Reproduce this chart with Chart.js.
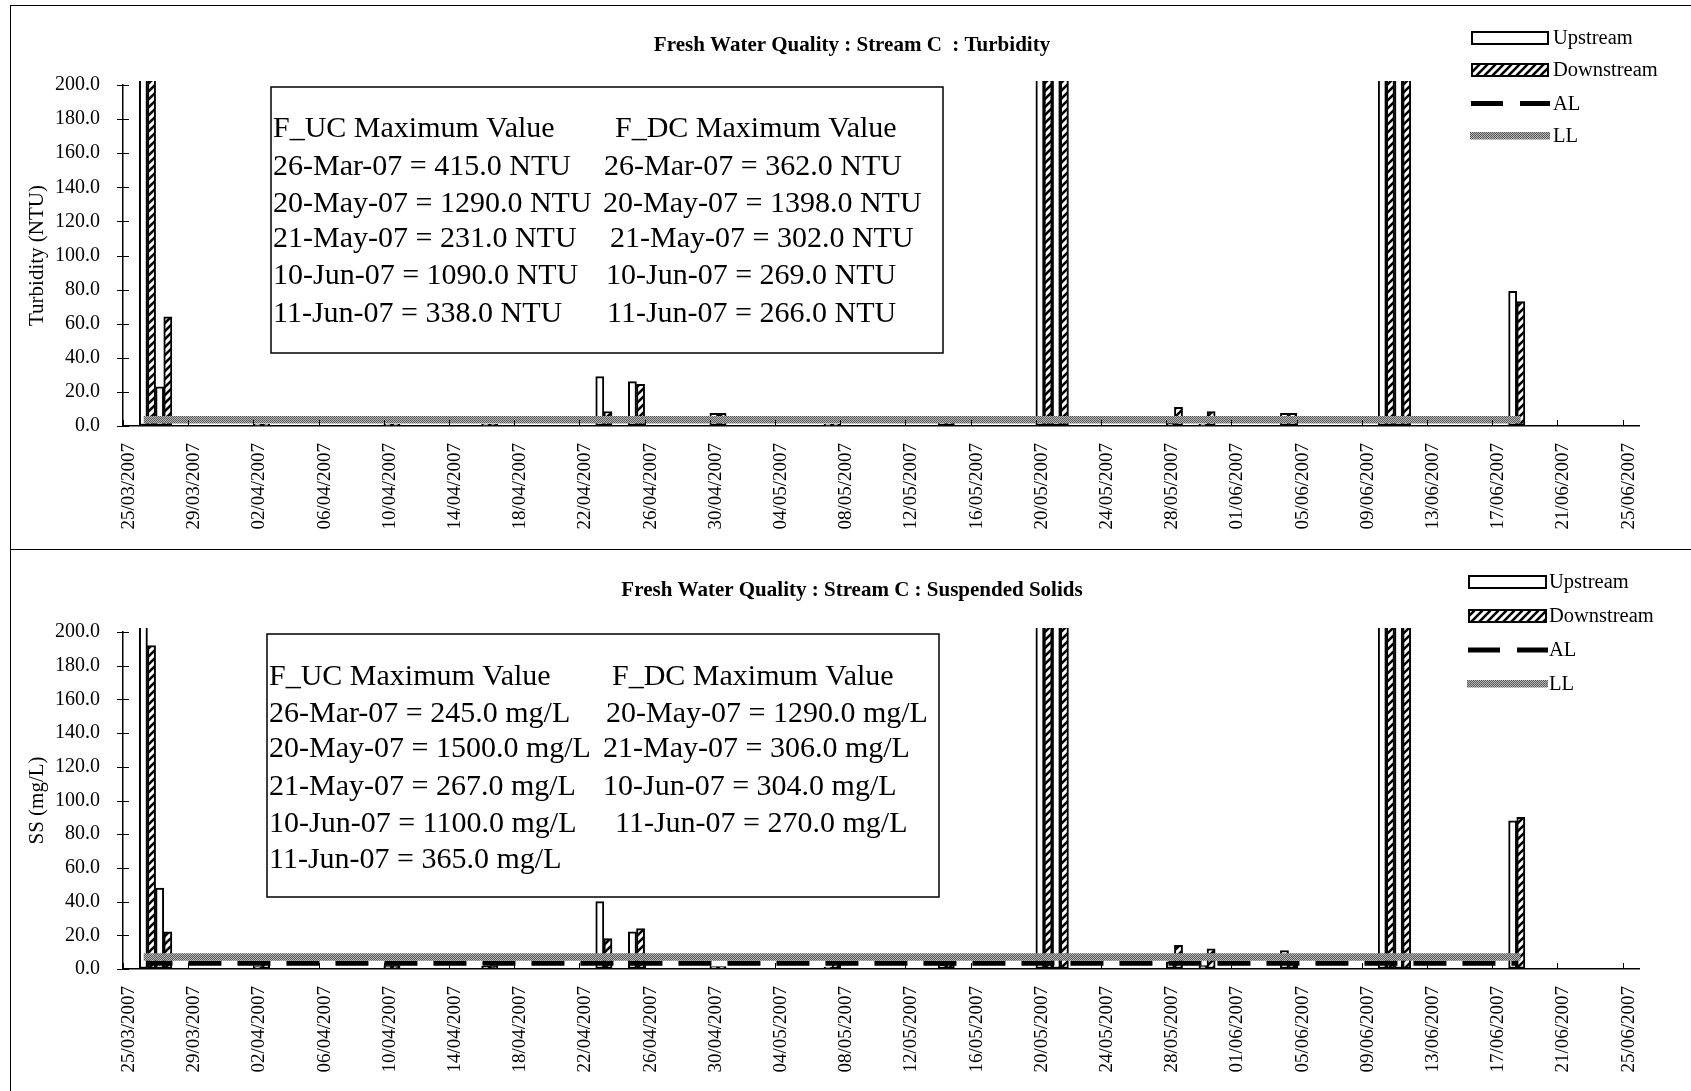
<!DOCTYPE html>
<html>
<head>
<meta charset="utf-8">
<title>Fresh Water Quality : Stream C</title>
<script src="https://cdn.jsdelivr.net/npm/chart.js@4.4.1/dist/chart.umd.min.js"></script>
<style>
  html, body { margin: 0; padding: 0; background: #fff; }
  #page { position: relative; width: 1691px; height: 1091px; overflow: hidden; }
  canvas { position: absolute; left: 0; }
  #turb { top: 0; }
  #ss { top: 549px; }
  .rule { position: absolute; background: #000; }
</style>
</head>
<body>
<div id="page">
  <canvas id="turb" width="1691" height="549"></canvas>
  <canvas id="ss" width="1691" height="542"></canvas>
  <div class="rule" style="left:10px;top:5px;width:1681px;height:1px"></div>
  <div class="rule" style="left:10px;top:5px;width:1px;height:1086px"></div>
  <div class="rule" style="left:10px;top:549px;width:1681px;height:1px"></div>
</div>
<script>
(function () {
  'use strict';

  // date axis runs 25/03/2007 .. 26/06/2007 (last day slot), a tick every 4 days up to 25/06
  const AXIS_START = Date.UTC(2007, 2, 25);
  const AXIS_DAYS = 93;
  const AXIS_STEP = 4;

  // sampling dates, shared by both parameters
  const DATES = ['26/03/2007', '27/03/2007', '02/04/2007', '10/04/2007', '16/04/2007',
                 '23/04/2007', '25/04/2007', '30/04/2007', '07/05/2007', '14/05/2007',
                 '20/05/2007', '21/05/2007', '28/05/2007', '30/05/2007', '04/06/2007',
                 '10/06/2007', '11/06/2007', '18/06/2007'];

  // turbidity (NTU)
  const TURB_UP   = [415, 23, 1, 1, 1, 29, 26, 7.5, 1, 2.5, 1290, 231, 1.5, 1, 7.5, 1090, 338, 79];
  const TURB_DOWN = [362, 64, 1, 1, 1, 8.5, 24.5, 7.5, 1, 2.5, 1398, 302, 11, 8.5, 7.5, 269, 266, 73];
  const TURB_AL = 3.7;
  const TURB_LL = 3.7;

  // suspended solids (mg/L)
  const SS_UP   = [245, 48, 1.5, 2, 1.8, 40, 22, 1.5, 1.2, 2.8, 1500, 267, 4.3, 2, 11, 1100, 365, 88];
  const SS_DOWN = [192, 22, 3.5, 2, 2, 18, 24, 1.5, 4, 3.8, 1290, 306, 14, 12, 3, 304, 270, 90];
  const SS_AL = 3.4;
  const SS_LL = 7.1;

  const Y_MAX = 200;
  const Y_STEP = 20;

  // text box contents
  const TURB_NOTE_UC = ['F_UC Maximum Value', '26-Mar-07 = 415.0 NTU', '20-May-07 = 1290.0 NTU',
                        '21-May-07 = 231.0 NTU', '10-Jun-07 = 1090.0 NTU', '11-Jun-07 = 338.0 NTU'];
  const TURB_NOTE_DC = ['F_DC Maximum Value', '26-Mar-07 = 362.0 NTU', '20-May-07 = 1398.0 NTU',
                        '21-May-07 = 302.0 NTU', '10-Jun-07 = 269.0 NTU', '11-Jun-07 = 266.0 NTU'];
  const SS_NOTE_UC = ['F_UC Maximum Value', '26-Mar-07 = 245.0 mg/L', '20-May-07 = 1500.0 mg/L',
                      '21-May-07 = 267.0 mg/L', '10-Jun-07 = 1100.0 mg/L', '11-Jun-07 = 365.0 mg/L'];
  const SS_NOTE_DC = ['F_DC Maximum Value', '20-May-07 = 1290.0 mg/L', '21-May-07 = 306.0 mg/L',
                      '10-Jun-07 = 304.0 mg/L', '11-Jun-07 = 270.0 mg/L'];

  const SERIF = '"Liberation Serif", "Times New Roman", serif';
  Chart.defaults.font.family = SERIF;
  Chart.defaults.color = '#000';

  // days since axis start, +0.5 so each group sits inside its day slot
  function dayOf(s) {
    const p = s.split('/').map(Number);
    return (Date.UTC(p[2], p[1] - 1, p[0]) - AXIS_START) / 864e5 + 0.5;
  }
  function fmtDay(v) {
    const d = new Date(AXIS_START + v * 864e5);
    const dd = String(d.getUTCDate()).padStart(2, '0');
    const mm = String(d.getUTCMonth() + 1).padStart(2, '0');
    return dd + '/' + mm + '/' + d.getUTCFullYear();
  }

  // fills: black "////" hatch for downstream, grey stipple for LL
  function makeHatch() {
    const c = document.createElement('canvas');
    c.width = c.height = 8;
    const g = c.getContext('2d');
    g.fillStyle = '#fff';
    g.fillRect(0, 0, 8, 8);
    g.strokeStyle = '#000';
    g.lineWidth = 2.6;
    g.beginPath();
    g.moveTo(-2, 10); g.lineTo(10, -2);
    g.moveTo(-2, 2); g.lineTo(2, -2);
    g.moveTo(6, 10); g.lineTo(10, 6);
    g.stroke();
    return g.createPattern(c, 'repeat');
  }
  function makeStipple() {
    const c = document.createElement('canvas');
    c.width = c.height = 2;
    const g = c.getContext('2d');
    g.fillStyle = '#b4b4b4';
    g.fillRect(0, 0, 2, 2);
    g.fillStyle = '#5c5c5c';
    g.fillRect(0, 0, 1, 1);
    g.fillRect(1, 1, 1, 1);
    return g.createPattern(c, 'repeat');
  }
  const HATCH = makeHatch();
  const STIPPLE = makeStipple();

  function build(id, o) {
    const days = DATES.map(dayOf);
    const pts = vals => vals.map((v, i) => ({ x: days[i], y: v }));
    const flat = v => days.map(d => ({ x: d, y: v }));

    // title, crossing y ticks, inside x ticks, note box and legend
    const panelPlugin = {
      id: 'panel',
      afterDraw(chart) {
        const { ctx, chartArea: a, scales } = chart;
        const x = scales.x, y = scales.y;
        ctx.save();

        ctx.strokeStyle = '#000';
        ctx.lineWidth = 1;
        ctx.beginPath();
        y.ticks.forEach(t => {
          const py = Math.round(y.getPixelForValue(t.value)) + 0.5;
          ctx.moveTo(a.left - 6, py); ctx.lineTo(a.left + 6, py);
        });
        x.ticks.forEach(t => {
          const px = Math.round(x.getPixelForValue(t.value)) + 0.5;
          ctx.moveTo(px, a.bottom); ctx.lineTo(px, a.bottom - 6);
        });
        ctx.stroke();

        ctx.fillStyle = '#000';
        ctx.font = 'bold 21px ' + SERIF;
        ctx.textAlign = 'center';
        ctx.textBaseline = 'middle';
        ctx.fillText(o.title, 852, o.titleY);

        const b = o.box;
        ctx.fillStyle = '#fff';
        ctx.fillRect(b.x, b.y, b.w, b.h);
        ctx.lineWidth = 1.5;
        ctx.strokeRect(b.x, b.y, b.w, b.h);
        ctx.fillStyle = '#000';
        ctx.font = '30px ' + SERIF;
        ctx.textAlign = 'left';
        o.noteUC.forEach((s, i) => ctx.fillText(s, b.x + 2, b.rows[i]));
        o.noteDC.forEach((s, i) => ctx.fillText(s, b.dcX[i], b.rows[i]));

        const L = o.legend;
        ctx.lineWidth = 2;
        ctx.strokeStyle = '#000';
        ctx.fillStyle = '#fff';
        ctx.fillRect(L.x, L.rows[0] - 6, L.w, 12);
        ctx.strokeRect(L.x, L.rows[0] - 6, L.w, 12);
        ctx.fillStyle = HATCH;
        ctx.fillRect(L.x, L.rows[1] - 6, L.w, 12);
        ctx.strokeRect(L.x, L.rows[1] - 6, L.w, 12);
        ctx.lineWidth = 5;
        ctx.setLineDash([32, 17]);
        ctx.beginPath();
        ctx.moveTo(L.x - 1, L.rows[2]); ctx.lineTo(L.x + L.w + 2, L.rows[2]);
        ctx.stroke();
        ctx.setLineDash([]);
        ctx.fillStyle = STIPPLE;
        ctx.fillRect(L.x - 2, L.rows[3] - 4, L.w + 4, 7.5);

        const names = ['Upstream', 'Downstream', 'AL', 'LL'].map(n =>
          chart.data.datasets.find(d => d.label === n).label);
        ctx.fillStyle = '#000';
        ctx.font = '20.5px ' + SERIF;
        names.forEach((n, i) => ctx.fillText(n, L.tx, L.rows[i] + 1));
        ctx.restore();
      }
    };

    const barClip = { left: 0, right: 0, top: 4, bottom: 2 };

    new Chart(document.getElementById(id), {
      type: 'bar',
      data: {
        datasets: [
          {
            type: 'line', label: 'LL', data: flat(o.ll),
            borderColor: STIPPLE, borderWidth: 7.5, borderCapStyle: 'square',
            pointRadius: 0, order: 0
          },
          {
            type: 'line', label: 'AL', data: flat(o.al),
            borderColor: '#000', borderWidth: 5, borderDash: [33, 16], borderDashOffset: 8,
            pointRadius: 0, order: 1
          },
          {
            label: 'Upstream', data: pts(o.up),
            backgroundColor: '#fff', borderColor: '#000', borderWidth: 2, borderSkipped: false,
            categoryPercentage: 1, barPercentage: 1, clip: barClip, order: 2
          },
          {
            label: 'Downstream', data: pts(o.down),
            backgroundColor: HATCH, borderColor: '#000', borderWidth: 2, borderSkipped: false,
            categoryPercentage: 1, barPercentage: 1, clip: barClip, order: 2
          }
        ]
      },
      options: {
        responsive: false,
        animation: false,
        events: [],
        layout: { padding: { left: 0, right: 52, top: o.top, bottom: 0 } },
        plugins: { legend: { display: false }, tooltip: { enabled: false } },
        scales: {
          x: {
            type: 'linear', min: 0, max: AXIS_DAYS, offset: false,
            grid: { display: true, drawOnChartArea: false, drawTicks: false, offset: false },
            border: { color: '#000', width: 1.5 },
            ticks: {
              stepSize: AXIS_STEP, includeBounds: false, autoSkip: false,
              minRotation: 90, maxRotation: 90,
              padding: 17, labelOffset: 6, color: '#000', font: { size: 19 },
              callback: fmtDay
            },
            afterFit: s => { s.height = o.xh; }
          },
          y: {
            min: 0, max: Y_MAX,
            grid: { display: true, drawOnChartArea: false, drawTicks: false },
            border: { color: '#000', width: 1.5 },
            ticks: {
              stepSize: Y_STEP, padding: 23, color: '#000', font: { size: 20 },
              callback: v => v.toFixed(1)
            },
            title: {
              display: true, text: o.ytitle, color: '#000', font: { size: 21 },
              padding: { top: 25, bottom: 0 }
            },
            afterFit: s => { s.width = 123; }
          }
        }
      },
      plugins: [panelPlugin]
    });
  }

  function init() {
    build('turb', {
      up: TURB_UP, down: TURB_DOWN, al: TURB_AL, ll: TURB_LL,
      title: 'Fresh Water Quality : Stream C  : Turbidity', titleY: 46,
      ytitle: 'Turbidity (NTU)', top: 85, xh: 123,
      noteUC: TURB_NOTE_UC, noteDC: TURB_NOTE_DC,
      box: { x: 271, y: 87, w: 672, h: 266, rows: [129, 167, 204, 239, 276, 314],
             dcX: [615, 604, 603, 610, 606, 607] },
      legend: { x: 1472, w: 76, tx: 1553, rows: [38, 70, 103.5, 136] }
    });
    build('ss', {
      up: SS_UP, down: SS_DOWN, al: SS_AL, ll: SS_LL,
      title: 'Fresh Water Quality : Stream C : Suspended Solids', titleY: 42,
      ytitle: 'SS (mg/L)', top: 83, xh: 122,
      noteUC: SS_NOTE_UC, noteDC: SS_NOTE_DC,
      box: { x: 267, y: 85, w: 672, h: 263, rows: [128, 165, 200, 238, 275, 311],
             dcX: [612, 606, 603, 603, 615] },
      legend: { x: 1469, w: 77, tx: 1549, rows: [33, 67, 101, 135] }
    });
  }

  if (document.readyState === 'loading') {
    document.addEventListener('DOMContentLoaded', init);
  } else {
    init();
  }
})();
</script>
</body>
</html>
